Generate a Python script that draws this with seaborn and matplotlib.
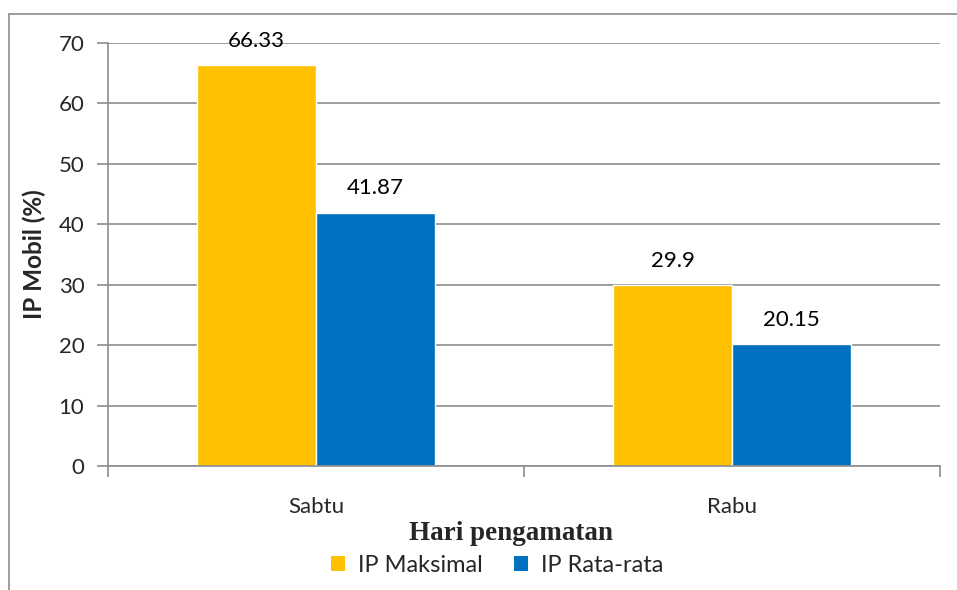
import matplotlib
matplotlib.use("Agg")
import matplotlib.pyplot as plt
import seaborn as sns
import pandas as pd
from matplotlib.lines import Line2D
from matplotlib.patches import Patch

categories = ["Sabtu", "Rabu"]
series_names = ["IP Maksimal", "IP Rata-rata"]
ip_maksimal = [66.33, 29.9]
ip_rata_rata = [41.87, 20.15]
value_labels = {"IP Maksimal": ["66.33", "29.9"], "IP Rata-rata": ["41.87", "20.15"]}
y_ticks = [0, 10, 20, 30, 40, 50, 60, 70]

rows = []
for c, v in zip(categories, ip_maksimal):
    rows.append({"Hari": c, "Seri": series_names[0], "IP": v})
for c, v in zip(categories, ip_rata_rata):
    rows.append({"Hari": c, "Seri": series_names[1], "IP": v})
df = pd.DataFrame(rows)

sns.set_theme(style="white")
plt.rcParams['font.family'] = ['Lato', 'DejaVu Sans']

W, H = 957, 590
FS = 16
fig = plt.figure(figsize=(W / 100, H / 100), dpi=100)
ax = fig.add_axes([108 / W, 1 - 466 / H, (940 - 108) / W, (466 - 43) / H])

colors = ["#FFC000", "#0070C0"]
sns.barplot(data=df, x="Hari", y="IP", hue="Seri", order=categories, hue_order=series_names,
            palette=colors, width=0.571, saturation=1, ax=ax, legend=False, errorbar=None)

for cont, name in zip(ax.containers, series_names):
    ax.bar_label(cont, labels=value_labels[name], padding=10.5, fontsize=FS, color="#000000")

ax.set_xlim(-0.5, 1.5)
ax.set_ylim(0, 70)
ax.set_yticks(y_ticks)
ax.set_yticklabels([str(t) for t in y_ticks], fontsize=FS)
ax.yaxis.grid(True, color="#8C8C8C", linewidth=1.2)
ax.set_axisbelow(True)
ax.tick_params(axis="y", which="major", length=8, width=1.2, color="#8C8C8C", pad=9, left=True)

ax.set_xticks([0, 1])
ax.set_xticklabels(categories, fontsize=FS)
ax.tick_params(axis="x", which="major", length=0, pad=22)
ax.set_xticks([-0.5, 0.5, 1.5], minor=True)
ax.tick_params(axis="x", which="minor", length=8, width=1.2, color="#8C8C8C", bottom=True)

for s in ["top", "right"]:
    ax.spines[s].set_visible(False)
for s in ["left", "bottom"]:
    ax.spines[s].set_color("#8C8C8C")
    ax.spines[s].set_linewidth(1.2)

ax.set_ylabel("IP Mobil (%)", fontsize=17.5, fontweight="bold")
ax.set_xlabel("")
ax.yaxis.set_label_coords((46 - 108) / (940 - 108), 0.5)
fig.text(511 / W, 1 - 533 / H, "Hari pengamatan", ha="center", va="center",
         fontsize=19.5, fontweight="bold", family=["Liberation Serif"])

handles = [Patch(facecolor=colors[0], edgecolor="none"), Patch(facecolor=colors[1], edgecolor="none")]
fig.legend(handles, series_names, loc="center", bbox_to_anchor=(497 / W, 1 - 565 / H), ncol=2,
           frameon=False, fontsize=17, handlelength=0.6, handleheight=0.6,
           handletextpad=0.55, columnspacing=1.3)

fig.add_artist(Line2D([9 / W, 9 / W], [0, 1 - 14 / H], transform=fig.transFigure,
                      color="#8C8C8C", linewidth=1.2))
fig.add_artist(Line2D([9 / W, 1], [1 - 14 / H, 1 - 14 / H], transform=fig.transFigure,
                      color="#8C8C8C", linewidth=1.2))

fig.savefig("out.png", dpi=100)
